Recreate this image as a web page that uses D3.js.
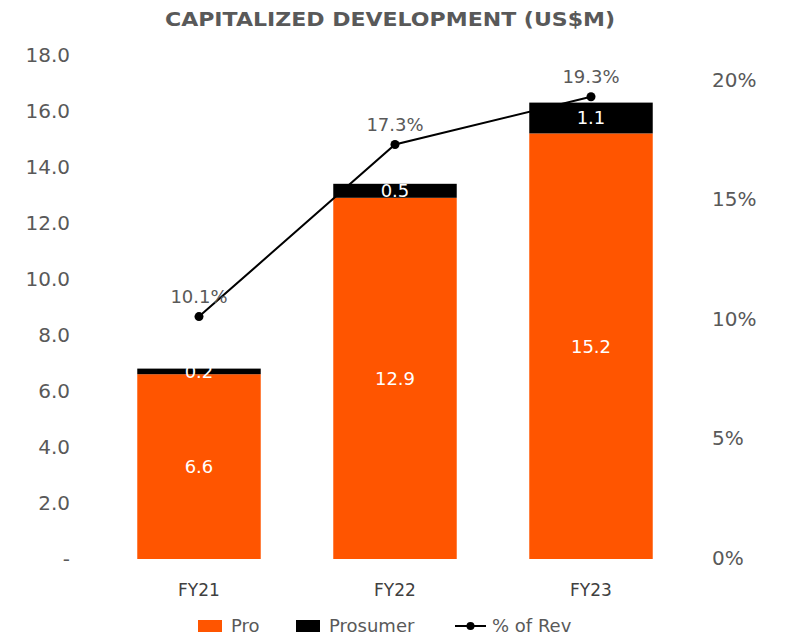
<!DOCTYPE html>
<html>
<head>
<meta charset="utf-8">
<script src="https://cdn.jsdelivr.net/npm/d3@7"></script>
<style>
  body { margin: 0; background: #fff; }
  svg { font-family: "DejaVu Sans", sans-serif; }
</style>
</head>
<body>
<svg id="chart"></svg>
<script>
// Data
const years = ["FY21", "FY22", "FY23"];
const pro = [6.6, 12.9, 15.2];
const prosumer = [0.2, 0.5, 1.1];
const pctOfRev = [0.101, 0.173, 0.193];
const leftTicks = [0, 2, 4, 6, 8, 10, 12, 14, 16, 18];
const rightTicks = [0, 0.05, 0.1, 0.15, 0.2];

const W = 785, H = 637;
const orange = "#FF5500";
const grey = "#595959";
const font = "'DejaVu Sans', sans-serif";

const svg = d3.select("#chart").attr("width", W).attr("height", H);

// Scales
const x = d3.scaleBand().domain(years).range([101, 689])
  .paddingInner(0.37).paddingOuter(0.185);
const y = d3.scaleLinear().domain([0, 18]).range([559, 55]);
const yR = d3.scaleLinear().domain([0, 0.2]).range([558, 80]);

// Title
svg.append("text")
  .attr("x", 165).attr("y", 26)
  .attr("textLength", 450).attr("lengthAdjust", "spacingAndGlyphs")
  .attr("font-size", 20).attr("font-weight", "bold")
  .attr("fill", grey)
  .text("CAPITALIZED DEVELOPMENT (US$M)");

// Left axis
const gL = svg.append("g").attr("transform", "translate(70,0)")
  .call(d3.axisLeft(y).tickValues(leftTicks).tickSize(0).tickPadding(0)
    .tickFormat(d => d === 0 ? "-" : d3.format(".1f")(d)));
gL.select(".domain").remove();
gL.selectAll("text").attr("font-size", 20).attr("fill", grey).attr("font-family", font);

// Right axis
const gR = svg.append("g").attr("transform", "translate(712,0)")
  .call(d3.axisRight(yR).tickValues(rightTicks).tickSize(0).tickPadding(0)
    .tickFormat(d3.format(".0%")));
gR.select(".domain").remove();
gR.selectAll("text").attr("font-size", 20).attr("fill", grey).attr("font-family", font);

// Bars
const bars = svg.append("g");
years.forEach((yr, i) => {
  const x0 = x(yr), bw = x.bandwidth();
  bars.append("rect")
    .attr("x", x0).attr("width", bw)
    .attr("y", y(pro[i])).attr("height", y(0) - y(pro[i]))
    .attr("fill", orange);
  bars.append("rect")
    .attr("x", x0).attr("width", bw)
    .attr("y", y(pro[i] + prosumer[i])).attr("height", y(pro[i]) - y(pro[i] + prosumer[i]))
    .attr("fill", "#000");
  bars.append("text")
    .attr("x", x0 + bw / 2).attr("y", (y(0) + y(pro[i])) / 2)
    .attr("dy", "0.35em").attr("text-anchor", "middle")
    .attr("font-size", 18).attr("fill", "#fff")
    .text(pro[i].toFixed(1));
  bars.append("text")
    .attr("x", x0 + bw / 2).attr("y", (y(pro[i]) + y(pro[i] + prosumer[i])) / 2)
    .attr("dy", "0.35em").attr("text-anchor", "middle")
    .attr("font-size", 18).attr("fill", "#fff")
    .text(prosumer[i].toFixed(1));
});

// Category labels
svg.append("g").selectAll("text").data(years).join("text")
  .attr("x", d => x(d) + x.bandwidth() / 2).attr("y", 596)
  .attr("text-anchor", "middle")
  .attr("font-size", 17).attr("fill", "#404040")
  .text(d => d);

// Line on the right axis
const pts = years.map((yr, i) => [x(yr) + x.bandwidth() / 2, yR(pctOfRev[i])]);
svg.append("path")
  .attr("d", d3.line()(pts))
  .attr("fill", "none").attr("stroke", "#000").attr("stroke-width", 2);
svg.append("g").selectAll("circle").data(pts).join("circle")
  .attr("cx", d => d[0]).attr("cy", d => d[1]).attr("r", 4.5).attr("fill", "#000");
svg.append("g").selectAll("text").data(pts).join("text")
  .attr("x", d => d[0]).attr("y", d => d[1] - 14)
  .attr("text-anchor", "middle")
  .attr("font-size", 18).attr("fill", grey)
  .text((d, i) => d3.format(".1%")(pctOfRev[i]));

// Legend
const lg = svg.append("g").attr("transform", "translate(0,626)");
lg.append("rect").attr("x", 198).attr("y", -6).attr("width", 24).attr("height", 12).attr("fill", orange);
lg.append("text").attr("x", 231).attr("dy", "0.35em").attr("font-size", 18).attr("fill", grey).text("Pro");
lg.append("rect").attr("x", 296).attr("y", -6).attr("width", 24).attr("height", 12).attr("fill", "#000");
lg.append("text").attr("x", 329).attr("dy", "0.35em").attr("font-size", 18).attr("fill", grey).text("Prosumer");
lg.append("line").attr("x1", 455).attr("x2", 486).attr("stroke", "#000").attr("stroke-width", 2);
lg.append("circle").attr("cx", 470.5).attr("r", 4).attr("fill", "#000");
lg.append("text").attr("x", 492).attr("dy", "0.35em").attr("font-size", 18).attr("fill", grey).text("% of Rev");
</script>
</body>
</html>
